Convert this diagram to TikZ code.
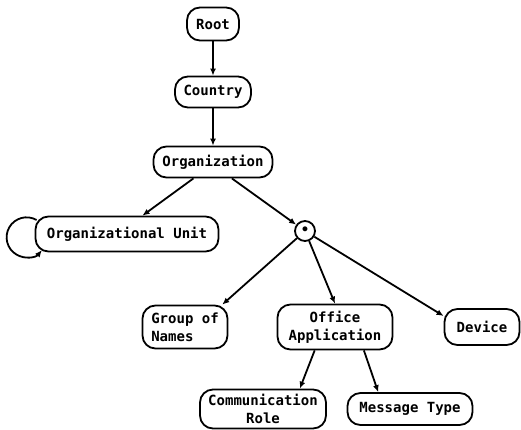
\documentclass[tikz,border=0pt]{standalone}
\usepackage{fontspec}
\newfontfamily\plotfont{DejaVu Sans Mono}
\usetikzlibrary{arrows.meta}
\tikzset{
	every node/.style = {font=\plotfont\bfseries\fontsize{14}{18}\selectfont},
	entity/.style = {draw, line width=1.8pt, rounded corners=13pt, inner sep=2pt, align=center},
	junction/.style = {draw, circle, line width=1.8pt, minimum size=20pt, inner sep=0pt},
	arr/.style = {-{Latex[length=7pt,width=6pt]}, line width=1.8pt}
}

\begin{document}
\begin{tikzpicture}[x=1pt, y=-1pt]
		\useasboundingbox (0,0) rectangle (521,429);
		
		% top of the tree
		\node[entity, minimum width=52, minimum height=33] (root) at (213,24) {Root};
		\node[entity, minimum width=76, minimum height=31] (country) at (213,92) {Country};
		\node[entity, minimum width=119, minimum height=31] (org) at (213,162) {Organization};
		
		% below organization
		\node[entity, minimum width=183, minimum height=35] (ou) at (127,234) {Organizational Unit};
		\node[junction] (star) at (305,231) {\textbullet};
		
		% below the junction
		\node[entity, minimum width=85, minimum height=43, align=left] (gon) at (185,327) {Group of\\Names};
		\node[entity, minimum width=115, minimum height=45] (oa) at (335,327) {Office\\Application};
		\node[entity, minimum width=75, minimum height=36] (dev) at (482,327) {Device};
		
		% below office application
		\node[entity, minimum width=126, minimum height=39] (cr) at (263,409) {Communication\\Role};
		\node[entity, minimum width=125, minimum height=32] (mt) at (410,409) {Message Type};
		
		% connectors
		\draw[arr] (root) -- (country);
		\draw[arr] (country) -- (org);
		\draw[arr] (org.220) -- (ou.50);
		\draw[arr] (org.319) -- (star);
		\draw[arr] (star) -- (gon.31);
		\draw[arr] (star) -- (oa.north);
		\draw[arr] (star) -- (dev.164);
		\draw[arr] (oa.229) -- (cr.29);
		\draw[arr] (oa.321) -- (mt.152);
		
		% unit inside unit
		\draw[arr] ([xshift=2pt, yshift=14pt]ou.west) arc[start angle=-60, end angle=-320, radius=20];
	\end{tikzpicture}
\end{document}
